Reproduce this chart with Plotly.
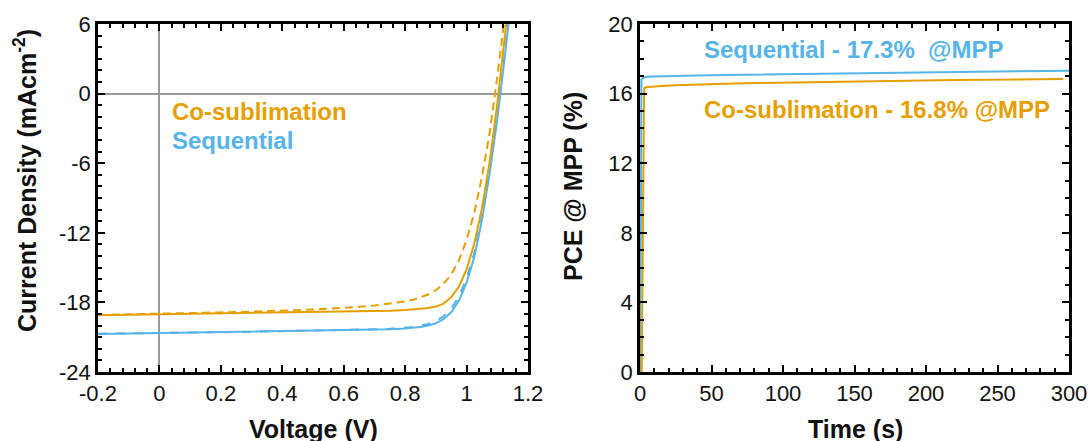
import plotly.graph_objects as go

# ---- J-V data (voltage in V, current density in mA cm^-2) ----
voltage = [-0.2, -0.15, -0.1, -0.05, 0.0, 0.05, 0.1, 0.15, 0.2, 0.25, 0.3, 0.35, 0.4, 0.45,
           0.5, 0.55, 0.6, 0.65, 0.7, 0.75, 0.8, 0.825, 0.85, 0.875, 0.9, 0.925, 0.95, 0.975,
           1.0, 1.025, 1.05, 1.075, 1.1, 1.125, 1.15]

cosub_rev = [-19.10, -19.08, -19.06, -19.05, -19.02, -19.00, -18.99, -18.97, -18.95, -18.94,
             -18.93, -18.92, -18.90, -18.88, -18.86, -18.84, -18.81, -18.78, -18.75, -18.72,
             -18.66, -18.62, -18.56, -18.48, -18.36, -18.10, -17.55, -16.65, -15.15, -12.95,
             -9.90, -5.90, -0.90, 4.90, 11.0]
cosub_fwd = [-19.08, -19.06, -19.04, -19.02, -18.98, -18.95, -18.93, -18.90, -18.86, -18.83,
             -18.80, -18.76, -18.72, -18.67, -18.61, -18.55, -18.47, -18.38, -18.27, -18.12,
             -17.92, -17.78, -17.58, -17.32, -16.95, -16.40, -15.60, -14.40, -12.60, -10.30,
             -7.20, -3.40, 1.40, 6.80, 12.2]
seq_rev = [-20.72, -20.70, -20.69, -20.66, -20.65, -20.63, -20.61, -20.60, -20.58, -20.57,
           -20.55, -20.53, -20.51, -20.49, -20.47, -20.45, -20.42, -20.39, -20.36, -20.32,
           -20.25, -20.20, -20.12, -20.00, -19.80, -19.45, -18.85, -17.85, -16.30, -14.10,
           -10.90, -6.90, -2.20, 3.30, 9.20]
seq_fwd = [-20.70, -20.69, -20.67, -20.65, -20.63, -20.62, -20.60, -20.58, -20.57, -20.55,
           -20.53, -20.51, -20.49, -20.47, -20.45, -20.42, -20.39, -20.36, -20.32, -20.27,
           -20.19, -20.12, -20.02, -19.86, -19.62, -19.20, -18.55, -17.50, -15.95, -13.75,
           -10.55, -6.60, -1.95, 3.50, 9.40]

# ---- MPP tracking data (time in s, PCE in %) ----
seq_time = [0.2, 0.6, 1.0, 2, 4, 8, 15, 25, 40, 60, 80, 100, 120, 140, 160, 180, 200,
            220, 240, 260, 280, 300]
seq_pce = [0.0, 16.5, 16.8, 16.9, 16.95, 16.98, 17.0, 17.02, 17.04, 17.07, 17.09, 17.11,
           17.14, 17.16, 17.18, 17.2, 17.22, 17.25, 17.26, 17.28, 17.31, 17.32]
cosub_time = [1.2, 2.9, 4, 8, 15, 25, 40, 60, 80, 100, 120, 140, 160, 180, 200, 220, 240,
              260, 280, 296]
cosub_pce = [0.0, 16.3, 16.36, 16.4, 16.44, 16.48, 16.53, 16.57, 16.61, 16.64, 16.67, 16.7,
             16.72, 16.74, 16.76, 16.78, 16.8, 16.81, 16.83, 16.84]

# ---- tick labels (plain hyphen for negatives) ----
v_ticks = [-0.2, 0.0, 0.2, 0.4, 0.6, 0.8, 1.0, 1.2]
v_labels = ["-0.2", "0", "0.2", "0.4", "0.6", "0.8", "1", "1.2"]
j_ticks = [-24, -18, -12, -6, 0, 6]
j_labels = ["-24", "-18", "-12", "-6", "0", "6"]

ORANGE = "#E69F00"
BLUE = "#56B4E9"
FONT = "Arial, 'Liberation Sans', sans-serif"

fig = go.Figure()

# J-V curves
fig.add_trace(go.Scatter(x=voltage, y=seq_fwd, mode="lines", xaxis="x", yaxis="y",
                         line=dict(color=BLUE, width=2, dash="dash")))
fig.add_trace(go.Scatter(x=voltage, y=seq_rev, mode="lines", xaxis="x", yaxis="y",
                         line=dict(color=BLUE, width=2)))
fig.add_trace(go.Scatter(x=voltage, y=cosub_fwd, mode="lines", xaxis="x", yaxis="y",
                         line=dict(color=ORANGE, width=2, dash="8px,5px")))
fig.add_trace(go.Scatter(x=voltage, y=cosub_rev, mode="lines", xaxis="x", yaxis="y",
                         line=dict(color=ORANGE, width=2)))

# MPP tracking
fig.add_trace(go.Scatter(x=seq_time, y=seq_pce, mode="lines", xaxis="x2", yaxis="y2",
                         line=dict(color=BLUE, width=2)))
fig.add_trace(go.Scatter(x=cosub_time, y=cosub_pce, mode="lines", xaxis="x2", yaxis="y2",
                         line=dict(color=ORANGE, width=2)))

W, H = 1090, 441
ML, MR, MT, MB = 0, 0, 24, 69
PLOT_H = H - MT - MB


def px_x(px):
    return px / W


def px_y(py):
    return (H - MB - py) / PLOT_H


axis_common = dict(
    showline=True, linecolor="black", linewidth=2.5, mirror="ticks",
    ticks="inside", ticklen=7, tickwidth=2, tickcolor="black", automargin=False,
    showgrid=False, tickfont=dict(family=FONT, size=22, color="#111"),
)

fig.update_layout(
    template="none",
    width=W, height=H,
    margin=dict(l=ML, r=MR, t=MT, b=MB, autoexpand=False),
    paper_bgcolor="white", plot_bgcolor="white",
    showlegend=False,
    xaxis=dict(domain=[px_x(98), px_x(528)], anchor="y", range=[-0.2, 1.2],
               tickmode="array", tickvals=v_ticks, ticktext=v_labels,
               zeroline=True, zerolinecolor="#9a9a9a", zerolinewidth=1.5,
               minor=dict(tick0=0, dtick=0.04, ticks="inside", ticklen=4, tickwidth=1.5,
                          tickcolor="black"),
               **axis_common),
    yaxis=dict(domain=[0, 1], anchor="x", range=[-24, 6],
               tickmode="array", tickvals=j_ticks, ticktext=j_labels,
               zeroline=True, zerolinecolor="#9a9a9a", zerolinewidth=1.5,
               minor=dict(tick0=0, dtick=1, ticks="inside", ticklen=4, tickwidth=1.5,
                          tickcolor="black"),
               **axis_common),
    xaxis2=dict(domain=[px_x(640), px_x(1069)], anchor="y2", range=[0, 300],
                tick0=0, dtick=50, zeroline=False,
                minor=dict(dtick=10, ticks="inside", ticklen=4, tickwidth=1.5,
                           tickcolor="black"),
                **axis_common),
    yaxis2=dict(domain=[0, 1], anchor="x2", range=[0, 20], tick0=0, dtick=4,
                zeroline=False,
                minor=dict(dtick=1, ticks="inside", ticklen=4, tickwidth=1.5,
                           tickcolor="black"),
                **axis_common),
)

title_font = dict(family=FONT, size=25, color="#111")
label_font = dict(family=FONT, size=24)

annotations = [
    # axis titles
    dict(text="<b>Voltage (V)</b>", xref="paper", yref="paper", x=px_x(313), y=px_y(429),
         xanchor="center", yanchor="middle", showarrow=False, font=title_font),
    dict(text="<b>Time (s)</b>", xref="paper", yref="paper", x=px_x(855), y=px_y(429),
         xanchor="center", yanchor="middle", showarrow=False, font=title_font),
    dict(text="<b>Current Density (mAcm<sup>-2</sup>)</b>", xref="paper", yref="paper",
         x=px_x(25), y=px_y(181), xanchor="center", yanchor="middle", textangle=-90,
         showarrow=False, font=title_font),
    dict(text="<b>PCE @ MPP (%)</b>", xref="paper", yref="paper",
         x=px_x(573), y=px_y(187), xanchor="center", yanchor="middle", textangle=-90,
         showarrow=False, font=title_font),
    # series labels
    dict(text="<b>Co-sublimation</b>", xref="x", yref="y", x=0.0345, y=-1.5,
         xanchor="left", yanchor="middle", showarrow=False,
         font=dict(color=ORANGE, **label_font)),
    dict(text="<b>Sequential</b>", xref="x", yref="y", x=0.0345, y=-4.0,
         xanchor="left", yanchor="middle", showarrow=False,
         font=dict(color=BLUE, **label_font)),
    dict(text="<b>Sequential - 17.3%\u00a0 @MPP</b>", xref="x2", yref="y2", x=43.4, y=18.56,
         xanchor="left", yanchor="middle", showarrow=False,
         font=dict(color=BLUE, **label_font)),
    dict(text="<b>Co-sublimation - 16.8% @MPP</b>", xref="x2", yref="y2", x=43.4, y=15.06,
         xanchor="left", yanchor="middle", showarrow=False,
         font=dict(color=ORANGE, **label_font)),
]
fig.update_layout(annotations=annotations)

fig.write_html("out.html")
